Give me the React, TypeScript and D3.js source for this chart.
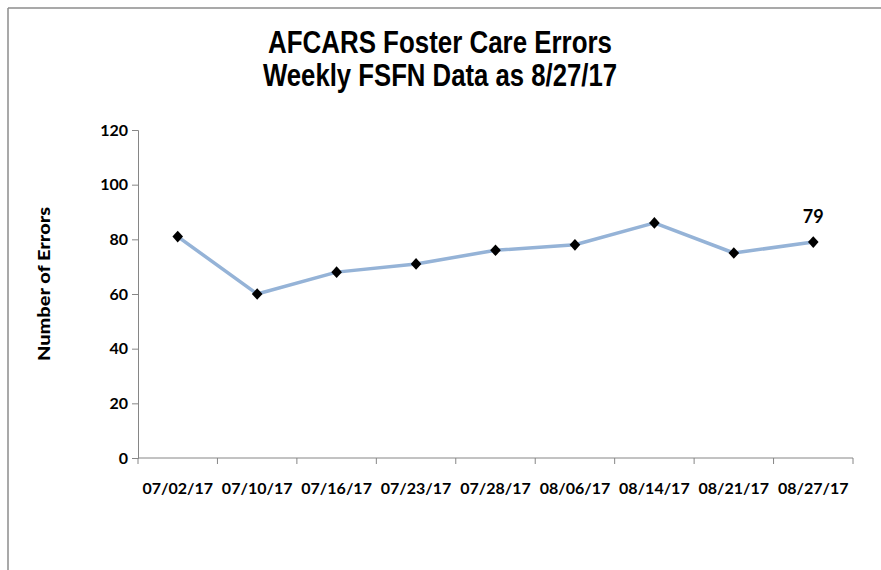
import { useRef, useEffect } from "react";
import * as d3 from "d3";

const weeks = ["07/02/17", "07/10/17", "07/16/17", "07/23/17", "07/28/17", "08/06/17", "08/14/17", "08/21/17", "08/27/17"];
const errors = [81, 60, 68, 71, 76, 78, 86, 75, 79];
const yTicks = [0, 20, 40, 60, 80, 100, 120];
const titleLines = ["AFCARS Foster Care Errors", "Weekly FSFN Data as 8/27/17"];
const titleWidths = [344, 354];
const yTitle = "Number of Errors";

const App = () => {
  const svgRef = useRef<SVGSVGElement>(null);

  useEffect(() => {
    const width = 881;
    const height = 570;
    const svg = d3.select(svgRef.current);
    svg.selectAll("*").remove();
    svg.attr("width", width).attr("height", height).style("background", "#fff");

    // frame (only top and left edges show)
    svg.append("line").attr("x1", 8).attr("x2", width).attr("y1", 8).attr("y2", 8)
      .attr("stroke", "#8c8c8c").attr("stroke-width", 1.5);
    svg.append("line").attr("x1", 8).attr("x2", 8).attr("y1", 8).attr("y2", height)
      .attr("stroke", "#8c8c8c").attr("stroke-width", 1.5);

    // title - narrow bold, squeezed to the original width
    svg.append("g")
      .selectAll("text")
      .data(titleLines)
      .join("text")
      .attr("x", 440)
      .attr("y", (d, i) => 53 + i * 33)
      .attr("text-anchor", "middle")
      .attr("font-family", "'Liberation Sans', Arial, sans-serif")
      .attr("font-weight", "bold")
      .attr("font-size", 32)
      .attr("textLength", (d, i) => titleWidths[i])
      .attr("lengthAdjust", "spacingAndGlyphs")
      .attr("fill", "#000")
      .text((d) => d);

    // scales
    const xScale = d3.scaleBand().domain(weeks).range([138, 853]);
    const yScale = d3.scaleLinear().domain([0, 120]).range([458, 130]);

    // y axis
    const yAxis = d3.axisLeft(yScale).tickValues(yTicks).tickSize(6).tickPadding(4);
    const gy = svg.append("g").attr("transform", `translate(${xScale.range()[0]},0)`).call(yAxis);
    gy.selectAll("path, line").attr("stroke", "#868686");
    gy.selectAll("text")
      .attr("font-family", "Lato, 'Open Sans', sans-serif")
      .attr("font-weight", "bold")
      .attr("font-size", 16)
      .attr("fill", "#000");

    // x axis: labels at category centres, ticks between categories
    const xAxis = d3.axisBottom(xScale).tickSize(0).tickPadding(25);
    const gx = svg.append("g").attr("transform", `translate(0,${yScale(0)})`).call(xAxis);
    gx.select("path").attr("stroke", "#868686").attr("d", `M${xScale.range()[0]},0H${xScale.range()[1]}`);
    gx.selectAll("text")
      .attr("font-family", "Lato, 'Open Sans', sans-serif")
      .attr("font-weight", "bold")
      .attr("font-size", 16)
      .attr("fill", "#000");
    const bounds = weeks.map((w) => xScale(w)).concat([xScale(weeks[weeks.length - 1]) + xScale.bandwidth()]);
    gx.selectAll(".bound")
      .data(bounds)
      .join("line")
      .attr("class", "bound")
      .attr("x1", (d) => d)
      .attr("x2", (d) => d)
      .attr("y1", 0)
      .attr("y2", 6)
      .attr("stroke", "#868686");

    // y axis title
    svg.append("text")
      .attr("transform", `translate(50,${284}) rotate(-90)`)
      .attr("text-anchor", "middle")
      .attr("font-family", "Lato, 'Open Sans', sans-serif")
      .attr("font-weight", "900")
      .attr("font-size", 16)
      .attr("textLength", 154)
      .attr("lengthAdjust", "spacingAndGlyphs")
      .attr("fill", "#000")
      .text(yTitle);

    // line
    const cx = (w) => xScale(w) + xScale.bandwidth() / 2;
    const line = d3.line<number>()
      .x((d, i) => cx(weeks[i]))
      .y((d) => yScale(d));
    svg.append("path")
      .datum(errors)
      .attr("d", line)
      .attr("fill", "none")
      .attr("stroke", "#95b3d7")
      .attr("stroke-width", 3.5)
      .attr("stroke-linejoin", "round");

    // diamond markers
    const diamond = d3.symbol().type(d3.symbolDiamond2).size(72);
    svg.append("g")
      .selectAll("path")
      .data(errors)
      .join("path")
      .attr("d", diamond)
      .attr("transform", (d, i) => `translate(${cx(weeks[i])},${yScale(d)}) scale(1,1.1)`)
      .attr("fill", "#000");

    // last value label
    const last = errors.length - 1;
    svg.append("text")
      .attr("x", cx(weeks[last]))
      .attr("y", yScale(errors[last]) - 19)
      .attr("text-anchor", "middle")
      .attr("font-family", "Lato, 'Open Sans', sans-serif")
      .attr("font-weight", "bold")
      .attr("font-size", 18)
      .attr("fill", "#000")
      .text(errors[last]);
  }, []);

  return (
    <div style={{ position: "absolute", left: 0, top: 0 }}>
      <svg ref={svgRef}></svg>
    </div>
  );
};

export default App;
